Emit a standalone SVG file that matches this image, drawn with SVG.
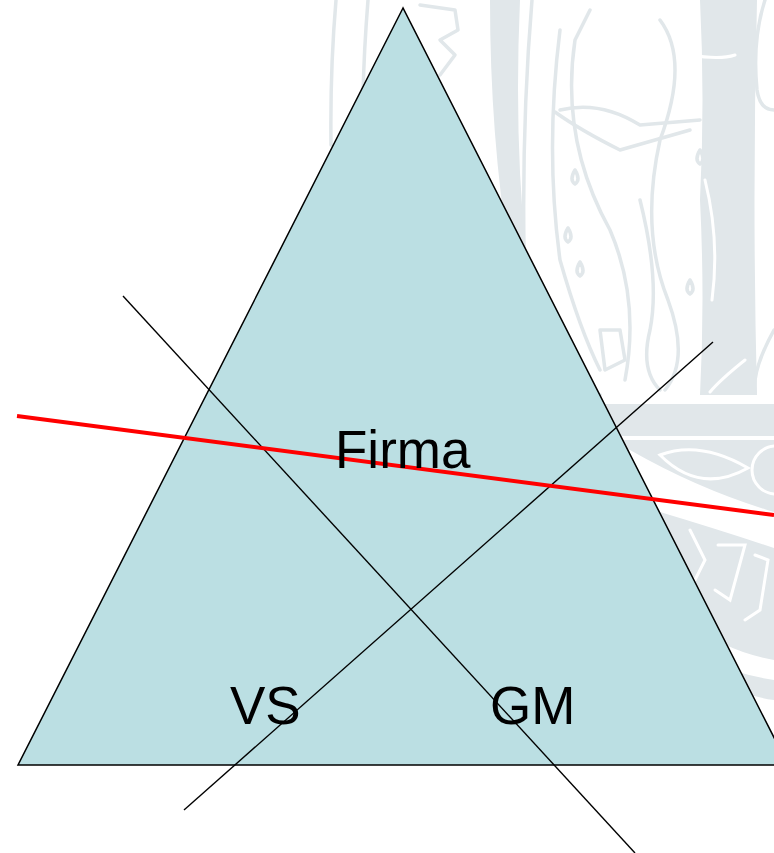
<svg xmlns="http://www.w3.org/2000/svg" width="774" height="853" viewBox="0 0 774 853">
  <style>
    .wm { fill: none; stroke: #e1e7ea; stroke-width: 3.5; stroke-linecap: round; stroke-linejoin: round; }
    .wmf { fill: #e1e7ea; stroke: none; }
    .wmw { fill: none; stroke: #ffffff; stroke-width: 3; stroke-linecap: round; }
    .tri { fill: #bbdfe3; stroke: #000000; stroke-width: 1.5; }
    .ln { stroke: #000000; stroke-width: 1.4; fill: none; }
    .red { stroke: #ff0000; stroke-width: 4; fill: none; }
    .lbl { font-family: "Liberation Sans", Arial, sans-serif; font-size: 53px; fill: #000000; }
  </style>
  <rect x="0" y="0" width="774" height="853" fill="#ffffff"/>

  <g id="watermark">
    <path class="wm" d="M336,0 Q330,70 331,145"/>
    <path class="wm" d="M368,0 Q364,50 363,95"/>
    <path class="wm" d="M420,5 L455,10 L458,30 L440,40 L455,55 L440,75"/>
    <path class="wmf" d="M490,0 L520,0 Q512,180 536,330 L524,332 Q490,180 490,0 Z"/>
    <path class="wm" d="M532,0 Q522,120 524,250 Q526,330 560,380 L600,395"/>
    <path class="wm" d="M560,30 Q545,150 560,260 Q580,330 600,370"/>
    <path class="wm" d="M590,10 L575,40 Q560,140 610,230 Q640,300 625,380"/>
    <path class="wm" d="M560,110 Q600,100 640,125 L700,120"/>
    <path class="wm" d="M555,112 Q580,130 620,150 L690,130"/>
    <path class="wm" d="M660,20 Q690,60 660,140 Q640,230 668,300 Q690,360 665,390"/>
    <path class="wm" d="M640,200 Q660,280 650,330 Q640,370 660,390"/>
    <path class="wm" d="M600,330 L620,330 L625,360 L605,370 Z"/>
    <path class="wm" d="M575,170 q-6,10 0,14 q6,-4 0,-14 M568,228 q-6,10 0,14 q6,-4 0,-14 M580,262 q-6,10 0,14 q6,-4 0,-14 M700,150 q-6,10 0,14 q6,-4 0,-14 M690,280 q-6,10 0,14 q6,-4 0,-14"/>
    <path class="wmf" d="M700,0 L757,0 Q752,200 757,395 L700,395 Q705,300 700,200 Q705,100 700,0 Z"/>
    <path class="wmw" d="M690,55 Q720,60 735,55 M705,180 Q720,240 712,300 M745,360 Q720,380 710,392"/>
    <path class="wm" d="M765,0 Q752,40 757,90 Q760,110 774,110 M774,330 Q752,370 755,392"/>
    <rect class="wmf" x="540" y="404" width="234" height="32"/>
    <path class="wmf" d="M600,440 L774,440 L774,512 Q700,490 630,450 Z"/>
    <path class="wmw" d="M660,455 Q700,440 748,468 Q700,495 660,455 Z"/>
    <circle cx="776" cy="470" r="24" fill="none" stroke="#ffffff" stroke-width="3"/>
    <path class="wmf" d="M660,512 Q720,530 774,548 L774,660 Q720,650 690,620 Q670,570 660,512 Z"/>
    <path class="wmw" d="M690,530 L705,560 L690,590 M718,545 L745,545 L730,600 L715,590 M755,555 L768,560 L760,610 L745,620"/>
    <path class="wmf" d="M705,660 Q740,675 774,680 L774,700 Q740,695 710,680 Z"/>
  </g>

  <g id="triangle">
    <polygon class="tri" points="403,8 18,765 788,765"/>
  </g>

  <g id="connectors">
    <line class="ln" x1="123" y1="296" x2="635" y2="853"/>
    <line class="ln" x1="184" y1="810" x2="713" y2="342"/>
    <line class="red" x1="17" y1="416" x2="774" y2="515"/>
  </g>

  <g id="node-firma">
    <text class="lbl" x="335" y="468">Firma</text>
  </g>
  <g id="node-vs">
    <text class="lbl" x="230" y="724">VS</text>
  </g>
  <g id="node-gm">
    <text class="lbl" x="490" y="724">GM</text>
  </g>
</svg>
